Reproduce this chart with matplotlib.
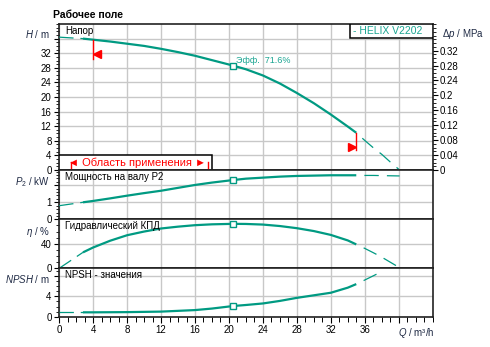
import numpy as np
import matplotlib
matplotlib.use('Agg')
import matplotlib.pyplot as plt
from matplotlib.ticker import MultipleLocator, FixedLocator, FuncFormatter
from matplotlib.patches import Rectangle

plt.rcParams['font.family'] = ['Liberation Sans', 'DejaVu Sans']
plt.rcParams['mathtext.fontset'] = 'custom'
plt.rcParams['mathtext.rm'] = 'Liberation Sans'
plt.rcParams['mathtext.it'] = 'Liberation Sans:italic'

# ---------------- data ----------------
Q_main = [0, 2.8, 4, 6, 8, 10, 12, 14, 16, 18, 20.5, 22, 24, 26, 28, 30, 32, 34, 35]
head = [36.4, 36.0, 35.7, 35.2, 34.6, 34.0, 33.2, 32.3, 31.3, 30.1, 28.6, 27.6, 25.9,
        23.7, 21.1, 18.3, 15.2, 11.9, 10.2]
power = [0.80, 1.00, 1.08, 1.23, 1.39, 1.54, 1.68, 1.85, 2.02, 2.16, 2.31, 2.39, 2.45,
         2.51, 2.55, 2.57, 2.59, 2.59, 2.59]
eff = [0, 26, 34, 45, 54, 60, 65, 68, 70.4, 71.8, 72.6, 72.4, 71.4, 69.0, 65.5, 60.8,
       54.5, 45.5, 39]
npsh = [0.86, 0.86, 0.86, 0.88, 0.90, 0.95, 1.0, 1.15, 1.3, 1.6, 2.1, 2.3, 2.6, 3.1,
        3.7, 4.2, 4.7, 5.7, 6.4]

Q_tail = [35, 36, 37, 38, 39, 40.1]
head_tail = [10.2, 8.1, 6.1, 4.3, 2.2, 0.0]
power_tail = [2.59, 2.58, 2.58, 2.57, 2.56, 2.55]
eff_tail = [39, 32.5, 25.5, 18.2, 10, 1]
Q_npsh_tail = [35, 36, 37.7]
npsh_tail = [6.4, 7.2, 8.6]

Q_dash_end = 2.8          # start of solid part of curves
Q_limits = [4, 35]        # application range marks
Q_duty = 20.5
duty_eff_text = 'Эфф.  71.6%'
pump_name = '- HELIX V2202'
rho_g = 0.00978           # MPa per m

x_ticks = list(range(0, 44, 4))
H_ticks = list(range(0, 40, 4))
P_ticks = [0, 1, 2]
E_ticks = [0, 40]
N_ticks = [0, 4, 8]
dp_ticks = [round(0.04 * i, 2) for i in range(9)]

TEAL = '#009a82'
RED = '#ff0000'
GRID = '#c8c8c8'
NAVY = '#1f2a44'
FS = 7

fig = plt.figure(figsize=(4.9, 3.47), dpi=100)
L, W = 0.1208, 0.7622
axH = fig.add_axes([L, 0.5101, W, 0.4207])
axP = fig.add_axes([L, 0.3680, W, 0.1421], sharex=axH)
axE = fig.add_axes([L, 0.2268, W, 0.1412], sharex=axH)
axN = fig.add_axes([L, 0.0873, W, 0.1395], sharex=axH)
axes = [axH, axP, axE, axN]

Qm = np.array(Q_main)
head_mask = Qm <= Q_dash_end


def draw(ax, y, Qt, yt):
    y = np.array(y)
    ax.plot(Qm[head_mask], y[head_mask], color=TEAL, lw=0.9,
            linestyle=(0, (11.5, 5.5)), zorder=4)
    ax.plot(Qm[Qm >= Q_dash_end], y[Qm >= Q_dash_end], color=TEAL, lw=1.6,
            solid_capstyle='butt', solid_joinstyle='round', zorder=4)
    ax.plot(Qt, yt, color=TEAL, lw=0.9, linestyle=(11.5, (11.5, 6.5)), zorder=4)
    i = Q_main.index(Q_duty)
    ax.plot([Q_duty], [y[i]], marker='s', ms=4, mfc='white', mec=TEAL, mew=1.0,
            zorder=6, clip_on=False)


draw(axH, head, Q_tail, head_tail)
draw(axP, power, Q_tail, power_tail)
draw(axE, eff, Q_tail, eff_tail)
draw(axN, npsh, Q_npsh_tail, npsh_tail)

fmt = FuncFormatter(lambda v, p: '%g' % v)

def hide(vals):
    return FuncFormatter(lambda v, p: '' if any(abs(v - h) < 1e-9 for h in vals) else '%g' % v)

setups = [
    (axH, (0, 40), H_ticks, 1, [36], '$\\mathit{H}$ / m', 0.93),
    (axP, (0, 2.9), P_ticks, 0.2, [2], '$\\mathit{P}_{\\mathit{2}}$ / kW', 0.755),
    (axE, (0, 80), E_ticks, 10, [], '$\\mathit{\\eta}$ / %', 0.745),
    (axN, (0, 9.5), N_ticks, 1, [8], '$\\mathit{NPSH}$ / m', 0.775),
]
for ax, yl, yt, mn, hd, lab, ly in setups:
    ax.set_ylim(*yl)
    ax.yaxis.set_major_locator(FixedLocator(yt))
    ax.yaxis.set_minor_locator(MultipleLocator(mn))
    ax.yaxis.set_major_formatter(hide(hd))
    ax.tick_params(axis='y', which='major', direction='out', length=3.5, width=0.8,
                   labelsize=FS, pad=2, colors='black')
    ax.tick_params(axis='y', which='minor', direction='out', length=2, width=0.6)
    ax.grid(True, which='major', color=GRID, lw=1.0, zorder=0)
    ax.set_axisbelow(True)
    for s in ax.spines.values():
        s.set_linewidth(1.2)
        s.set_color('#222222')
    ax.text(-0.025, ly, lab, transform=ax.transAxes, ha='right', va='center',
            fontsize=FS, color=NAVY)

axH.set_xlim(0, 44)
axH.xaxis.set_major_locator(FixedLocator(x_ticks))
axH.xaxis.set_minor_locator(MultipleLocator(1))
for ax in axes[:-1]:
    ax.tick_params(axis='x', which='both', length=0, labelbottom=False)
axN.xaxis.set_major_formatter(hide([40]))
axN.tick_params(axis='x', which='major', direction='out', length=4, width=0.8,
                labelsize=FS, pad=2)
axN.tick_params(axis='x', which='minor', direction='out', length=3.5, width=0.7)
axN.text(39.9, -0.33, '$\\mathit{Q}$ / m³/h', transform=axN.get_xaxis_transform(),
         ha='left', va='center', fontsize=FS, color=NAVY)

# right pressure axis
axR = axH.twinx()
axR.set_ylim(0, 40 * rho_g)
axR.yaxis.set_major_locator(FixedLocator(dp_ticks))
axR.yaxis.set_minor_locator(MultipleLocator(0.01))
axR.yaxis.set_major_formatter(fmt)
axR.tick_params(axis='y', which='major', direction='out', length=3.5, width=0.8,
                labelsize=FS, pad=1.5)
axR.tick_params(axis='y', which='minor', direction='out', length=2, width=0.6)
for s in axR.spines.values():
    s.set_visible(False)
axR.text(1.024, 0.93, '$\\Delta\\mathit{p}$ / MPa', transform=axH.transAxes,
         ha='left', va='center', fontsize=FS, color=NAVY)

# panel titles
titles = [(axH, 'Напор', 0.955), (axP, 'Мощность на валу P2', 0.86),
          (axE, 'Гидравлический КПД', 0.87), (axN, 'NPSH - значения', 0.86)]
for ax, t, y in titles:
    ax.text(0.0155, y, t, transform=ax.transAxes, ha='left', va='center',
            fontsize=FS, color='black', zorder=7)

fig.text(53 / 490, 1 - 15 / 347, 'Рабочее поле', ha='left', va='center',
         fontsize=7.5, fontweight='bold')

# pump name box
axH.add_patch(Rectangle((0.7786, 0.902), 0.2214, 0.098, transform=axH.transAxes,
                        facecolor='white', edgecolor='black', lw=1.1, zorder=7))
axH.text(0.787, 0.951, pump_name, transform=axH.transAxes, ha='left', va='center',
         fontsize=7.5, color='#1aa592', zorder=8)

# duty point text
axH.text(Q_duty + 0.3, 30.1, duty_eff_text, ha='left', va='center', fontsize=6.5,
         color='#1aa592', zorder=7)

# application range box
axH.add_patch(Rectangle((0, 0), 18.0, 4, facecolor='white', edgecolor='black',
                        lw=1.1, zorder=7))
axH.text(9.2, 2.0, '◄ Область применения ►', ha='center', va='center',
         fontsize=8, color=RED, zorder=8)
for xb in (1.36, 17.5):
    axH.plot([xb, xb], [0, 2.2], color=RED, lw=1.0, zorder=8)

# limit marks on head curve
hq = dict(zip(Q_main, head))
q0, q1 = Q_limits
axH.plot([q0, q0], [hq[q0], hq[q0] - 5.2], color=RED, lw=1.0, zorder=5)
axH.plot([q0 + 0.45], [31.7], marker='<', ms=6, color=RED, mec=RED, zorder=5)
axH.plot([q1, q1], [hq[q1], hq[q1] - 4.7], color=RED, lw=1.0, zorder=5)
axH.plot([q1 - 0.45], [6.4], marker='>', ms=6, color=RED, mec=RED, zorder=5)

fig.savefig('out.png', dpi=100)
